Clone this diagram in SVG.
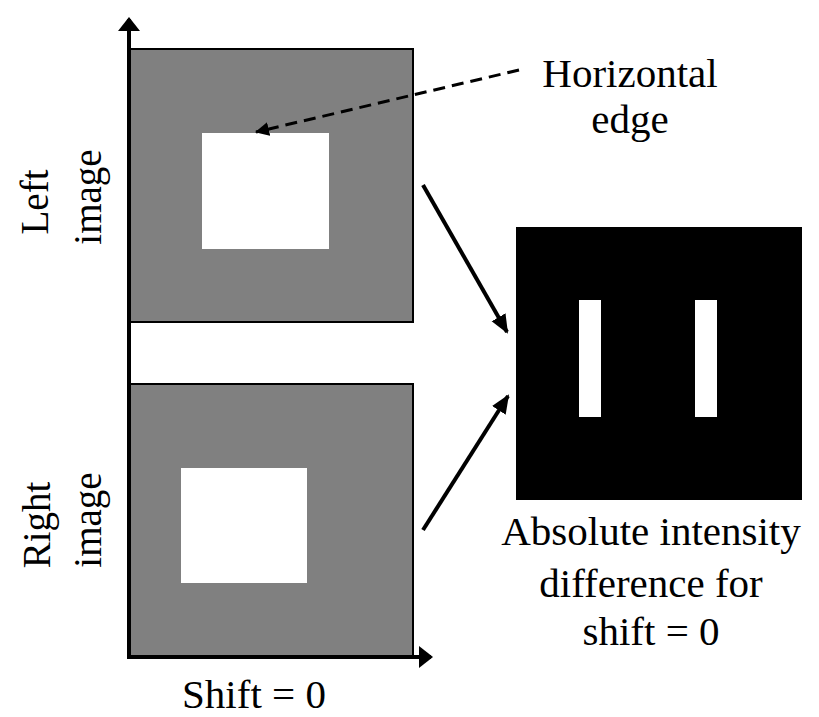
<svg xmlns="http://www.w3.org/2000/svg" width="819" height="717" viewBox="0 0 819 717">
<style>
text{font-family:"Liberation Serif","Times New Roman",serif;fill:#000;text-anchor:middle}
.lbl{font-size:41px}
.rot{font-size:39px}
.img{fill:#808080;stroke:#000;stroke-width:2}
.hole{fill:#fff}
.ax{stroke:#000;stroke-width:4;fill:none}
.arr{stroke:#000;stroke-width:4;fill:none}
.dash{stroke:#000;stroke-width:3;fill:none;stroke-dasharray:12 7}
</style>
<defs>
<marker id="axh" markerUnits="userSpaceOnUse" markerWidth="24" markerHeight="24" refX="12" refY="11" orient="auto">
<path d="M0,0 L14,11 L0,22 Z" fill="#000"/>
</marker>
<marker id="ah" markerUnits="userSpaceOnUse" markerWidth="22" markerHeight="22" refX="17" refY="8" orient="auto">
<path d="M0,0 L19,8 L0,16 Z" fill="#000"/>
</marker>
<marker id="ahs" markerUnits="userSpaceOnUse" markerWidth="20" markerHeight="20" refX="13" refY="7" orient="auto">
<path d="M0,0 L14,7 L0,14 Z" fill="#000"/>
</marker>
</defs>
<rect width="819" height="717" fill="#fff"/>
<g id="left-image">
<rect class="img" x="129" y="49" width="284" height="273"/>
<rect class="hole" x="202" y="133" width="127" height="116"/>
</g>
<g id="right-image">
<rect class="img" x="129" y="384" width="284" height="272"/>
<rect class="hole" x="181" y="468" width="126" height="115"/>
</g>
<g id="difference">
<rect x="516" y="227" width="286" height="273" fill="#000"/>
<rect class="hole" x="579" y="300" width="22" height="117"/>
<rect class="hole" x="695" y="300" width="22" height="117"/>
</g>
<g id="axes">
<path class="ax" d="M129,657 V19" marker-end="url(#axh)"/>
<path class="ax" d="M127,657 H431" marker-end="url(#axh)"/>
</g>
<g id="connectors">
<path class="dash" d="M519,70 L256,132" marker-end="url(#ahs)"/>
<path class="arr" d="M423,185 L507,332" marker-end="url(#ah)"/>
<path class="arr" d="M423,530 L508,396" marker-end="url(#ah)"/>
</g>
<g id="labels">
<text class="lbl" x="630" y="87">Horizontal</text>
<text class="lbl" x="630" y="133">edge</text>
<text class="lbl" x="651" y="545">Absolute intensity</text>
<text class="lbl" x="651" y="597">difference for</text>
<text class="lbl" x="651" y="645">shift = 0</text>
<text class="lbl" x="254" y="708">Shift = 0</text>
<text class="rot" transform="translate(48,202) rotate(-90)">Left</text>
<text class="rot" transform="translate(101,197) rotate(-90)">image</text>
<text class="rot" transform="translate(50,525) rotate(-90)">Right</text>
<text class="rot" transform="translate(101,520) rotate(-90)">image</text>
</g>
</svg>
